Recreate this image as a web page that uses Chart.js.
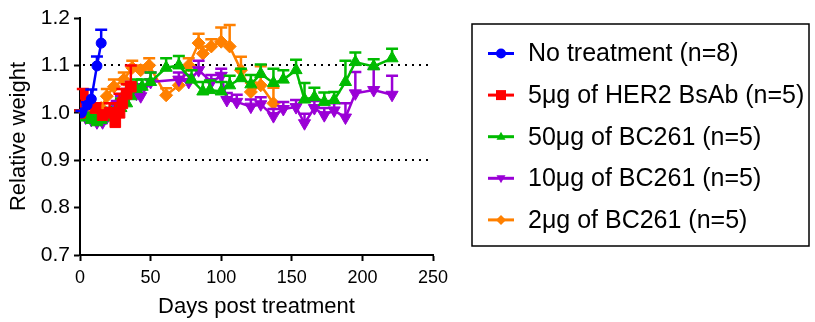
<!DOCTYPE html>
<html>
<head>
<meta charset="utf-8">
<script src="https://cdn.jsdelivr.net/npm/chart.js@4/dist/chart.umd.min.js"></script>
<style>
html,body{margin:0;padding:0;background:#fff;}
#wrap{width:815px;height:322px;position:relative;}
</style>
</head>
<body>
<div id="wrap"><canvas id="c" width="815" height="322"></canvas></div>
<script>
// ---------- data ----------
const seriesNames = [
  'No treatment (n=8)',
  '5\u03bcg of HER2 BsAb (n=5)',
  '50\u03bcg of BC261 (n=5)',
  '10\u03bcg of BC261 (n=5)',
  '2\u03bcg of BC261 (n=5)'
];

const blueDays = [1, 5, 8, 12, 15];
const blueVals = [1.0, 1.016, 1.029, 1.099, 1.147];
const blueErr  = [0.004, 0.006, 0.02, 0.02, 0.028];

const redDays = [0, 2, 6, 11, 16, 21, 25, 28, 30, 33, 36];
const redVals = [1.0, 1.04, 1.025, 1.01, 0.995, 1.0, 0.98, 1.0, 1.02, 1.04, 1.055];
const redErr  = [0.005, 0.01, 0.01, 0.01, 0.01, 0.02, 0.04, 0.04, 0.03, 0.02, 0.045];

const greenDays = [0, 4, 8, 12, 15, 19, 22, 26, 29, 33, 36, 40, 44, 50, 61, 70, 79, 87, 92, 100, 106, 114, 121, 128, 137, 144, 153, 159, 166, 173, 180, 188, 195, 208, 221];
const greenVals = [1.0, 0.99, 0.985, 0.98, 0.985, 0.99, 1.0, 1.005, 1.01, 1.02, 1.035, 1.05, 1.055, 1.065, 1.095, 1.10, 1.07, 1.045, 1.048, 1.045, 1.058, 1.073, 1.06, 1.082, 1.063, 1.07, 1.09, 1.028, 1.033, 1.023, 1.027, 1.065, 1.107, 1.098, 1.115];
const greenErr  = [0.005, 0.01, 0.01, 0.01, 0.01, 0.01, 0.01, 0.015, 0.02, 0.02, 0.02, 0.02, 0.015, 0.02, 0.02, 0.02, 0.02, 0.02, 0.02, 0.02, 0.02, 0.02, 0.02, 0.02, 0.03, 0.02, 0.022, 0.035, 0.02, 0.02, 0.017, 0.045, 0.02, 0.015, 0.02];

const purpleDays = [0, 4, 8, 12, 16, 19, 22, 26, 29, 33, 36, 40, 43, 50, 70, 77, 84, 93, 100, 104, 111, 121, 128, 137, 144, 153, 159, 166, 173, 180, 188, 195, 208, 221];
const purpleVals = [1.0, 0.99, 0.985, 0.98, 0.98, 0.99, 1.0, 1.01, 1.02, 1.03, 1.045, 1.04, 1.035, 1.065, 1.07, 1.065, 1.09, 1.065, 1.078, 1.027, 1.023, 1.013, 1.018, 0.993, 1.008, 1.012, 0.978, 1.01, 0.995, 1.005, 0.99, 1.041, 1.048, 1.038];
const purpleErr  = [0.005, 0.01, 0.01, 0.01, 0.01, 0.01, 0.01, 0.015, 0.015, 0.02, 0.02, 0.02, 0.02, 0.02, 0.015, 0.015, 0.02, 0.015, 0.015, 0.015, 0.015, 0.015, 0.015, 0.015, 0.015, 0.015, 0.02, 0.015, 0.015, 0.015, 0.03, 0.045, 0.045, 0.04];

const orangeDays = [0, 4, 8, 12, 15, 19, 24, 31, 37, 43, 49, 61, 70, 77, 84, 87, 93, 100, 106, 114, 121, 128, 137];
const orangeVals = [1.0, 1.0, 1.0, 1.005, 1.01, 1.035, 1.055, 1.07, 1.095, 1.09, 1.10, 1.037, 1.058, 1.10, 1.147, 1.125, 1.14, 1.15, 1.14, 1.09, 1.044, 1.058, 1.02];
const orangeErr  = [0.005, 0.005, 0.01, 0.01, 0.01, 0.015, 0.015, 0.015, 0.015, 0.01, 0.015, 0.015, 0.015, 0.015, 0.02, 0.015, 0.015, 0.03, 0.045, 0.028, 0.02, 0.04, 0.033];

const xTicks = [0, 50, 100, 150, 200, 250];
const yTicks = [0.7, 0.8, 0.9, 1.0, 1.1, 1.2];
const refLines = [1.1, 0.9];

// ---------- styles ----------
const colors = ['#0000FF', '#FF0000', '#00BB00', '#9A00D6', '#FF8000'];
const pointStyles = ['circle', 'rect', 'triangle', 'triangle', 'rectRot'];
const pointRotations = [0, 0, 0, 180, 0];
const pointRadii = [5, 7.5, 7, 7, 6.5];
const FONT = '"Liberation Sans", Arial, Helvetica, sans-serif';

const allDays = [blueDays, redDays, greenDays, purpleDays, orangeDays];
const allVals = [blueVals, redVals, greenVals, purpleVals, orangeVals];
const allErr  = [blueErr, redErr, greenErr, purpleErr, orangeErr];

const datasets = seriesNames.map((name, k) => ({
  label: name,
  data: allDays[k].map((d, i) => ({x: d, y: allVals[k][i]})),
  errors: allErr[k],
  borderColor: colors[k],
  backgroundColor: colors[k],
  borderWidth: 2.5,
  pointStyle: pointStyles[k],
  rotation: pointRotations[k],
  pointRadius: pointRadii[k],
  pointBorderWidth: 1,
  pointBackgroundColor: colors[k],
  pointBorderColor: colors[k],
  tension: 0,
  fill: false
}));

const errorBars = {
  id: 'errorBars',
  beforeDatasetDraw(chart, args) {
    const ds = chart.data.datasets[args.index];
    const xs = chart.scales.x, ys = chart.scales.y;
    const ctx = chart.ctx;
    ctx.save();
    ctx.strokeStyle = ds.borderColor;
    ctx.lineWidth = 2.5;
    ds.data.forEach((p, i) => {
      const e = ds.errors[i];
      const px = xs.getPixelForValue(p.x);
      const y0 = ys.getPixelForValue(p.y);
      const y1 = ys.getPixelForValue(p.y + e);
      ctx.beginPath();
      ctx.moveTo(px, y0);
      ctx.lineTo(px, y1);
      ctx.moveTo(px - 6, y1);
      ctx.lineTo(px + 6, y1);
      ctx.stroke();
    });
    ctx.restore();
  }
};

const refLinePlugin = {
  id: 'refLines',
  beforeDatasetsDraw(chart) {
    const ctx = chart.ctx, a = chart.chartArea, ys = chart.scales.y;
    ctx.save();
    ctx.strokeStyle = '#000';
    ctx.lineWidth = 2;
    ctx.setLineDash([2, 5]);
    refLines.forEach(v => {
      const y = Math.round(ys.getPixelForValue(v));
      ctx.beginPath();
      ctx.moveTo(a.left + 3, y);
      ctx.lineTo(a.right, y);
      ctx.stroke();
    });
    ctx.restore();
  }
};

function drawMarker(ctx, style, rot, r, x, y) {
  ctx.beginPath();
  if (style === 'circle') {
    ctx.arc(x, y, r, 0, Math.PI * 2);
  } else if (style === 'rect') {
    ctx.rect(x - r, y - r, 2 * r, 2 * r);
  } else if (style === 'rectRot') {
    ctx.moveTo(x, y - r); ctx.lineTo(x + r, y); ctx.lineTo(x, y + r); ctx.lineTo(x - r, y);
    ctx.closePath();
  } else if (style === 'triangle') {
    const s = rot === 180 ? -1 : 1;
    ctx.moveTo(x, y - s * r);
    ctx.lineTo(x + r * 0.9, y + s * r * 0.6);
    ctx.lineTo(x - r * 0.9, y + s * r * 0.6);
    ctx.closePath();
  }
  ctx.fill();
}

const legendPlugin = {
  id: 'boxLegend',
  afterDraw(chart) {
    const ctx = chart.ctx;
    ctx.save();
    ctx.strokeStyle = '#000';
    ctx.lineWidth = 1.5;
    ctx.strokeRect(472, 24, 337, 222);
    ctx.font = '25px ' + FONT;
    ctx.textBaseline = 'middle';
    ctx.textAlign = 'left';
    chart.data.datasets.forEach((ds, k) => {
      const y = 53.5 + k * 41.6;
      ctx.strokeStyle = colors[k];
      ctx.fillStyle = colors[k];
      ctx.lineWidth = 3;
      ctx.beginPath();
      ctx.moveTo(488, y);
      ctx.lineTo(514, y);
      ctx.stroke();
      drawMarker(ctx, pointStyles[k], pointRotations[k], 5, 501, y);
      ctx.fillStyle = '#000';
      ctx.fillText(ds.label, 528, y + 1);
    });
    ctx.restore();
  }
};

new Chart(document.getElementById('c'), {
  type: 'line',
  data: { datasets },
  plugins: [errorBars, refLinePlugin, legendPlugin],
  options: {
    responsive: false,
    devicePixelRatio: 1,
    animation: false,
    layout: { padding: { left: 0, top: 18, right: 382, bottom: 0 } },
    plugins: { legend: { display: false }, tooltip: { enabled: false } },
    scales: {
      x: {
        type: 'linear',
        min: xTicks[0],
        max: xTicks[xTicks.length - 1],
        afterBuildTicks: s => { s.ticks = xTicks.map(v => ({value: v})); },
        afterFit: s => { s.height = 67; },
        ticks: { color: '#000', font: { family: FONT, size: 18 }, padding: 6, maxRotation: 0 },
        grid: { display: true, drawOnChartArea: false, drawTicks: true, tickLength: 6, tickColor: '#000', tickWidth: 2 },
        border: { display: true, color: '#000', width: 2 },
        title: { display: true, text: 'Days post treatment', color: '#000', font: { family: FONT, size: 22 }, padding: { top: 0, bottom: 2 } }
      },
      y: {
        type: 'linear',
        min: yTicks[0],
        max: yTicks[yTicks.length - 1],
        afterBuildTicks: s => { s.ticks = yTicks.map(v => ({value: v})); },
        afterFit: s => { s.width = 80; },
        ticks: { color: '#000', font: { family: FONT, size: 21 }, padding: 4, callback: v => Number(v).toFixed(1) },
        grid: { display: true, drawOnChartArea: false, drawTicks: true, tickLength: 6, tickColor: '#000', tickWidth: 2 },
        border: { display: true, color: '#000', width: 2 },
        title: { display: true, text: 'Relative weight', color: '#000', font: { family: FONT, size: 22 }, padding: { top: 6, bottom: 0 } }
      }
    }
  }
});
</script>
</body>
</html>
